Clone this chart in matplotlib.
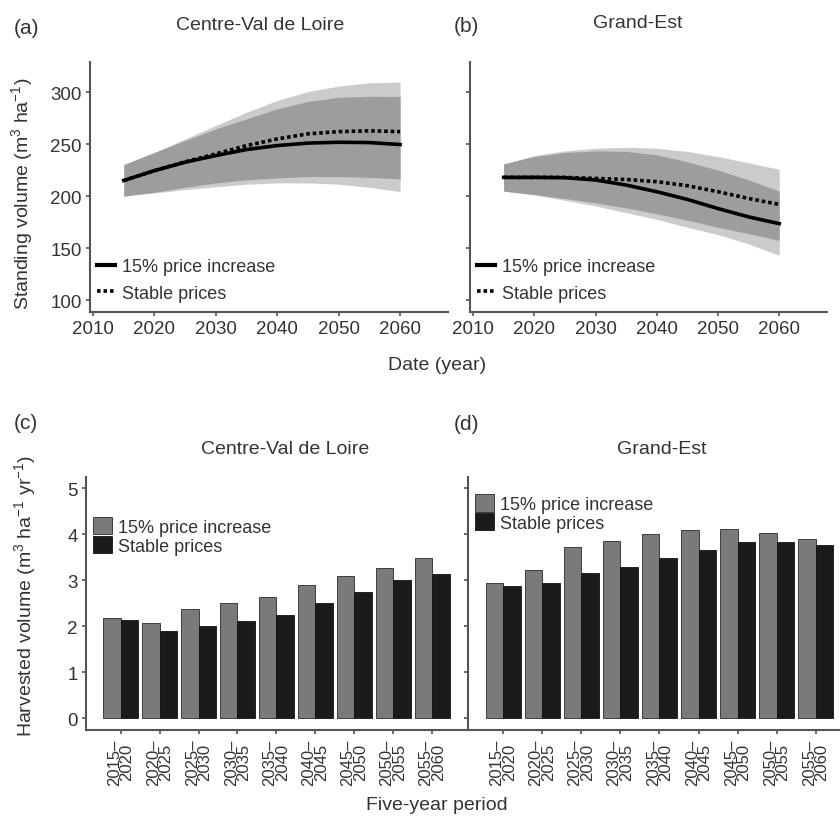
import numpy as np
import matplotlib
matplotlib.use("Agg")
import matplotlib.pyplot as plt
from matplotlib.patches import Patch
from matplotlib.lines import Line2D

plt.rcParams["font.family"] = ["Liberation Sans", "DejaVu Sans"]
plt.rcParams["mathtext.default"] = "regular"

TXT = "#333333"
AX = "#555555"
LIGHT = "#cbcbcb"
DARK = "#9d9d9d"
GREY_BAR = "#7a7a7a"
BLACK_BAR = "#1b1b1b"

# ─── standing volume (m3/ha), every 5 years ───
years = [2015, 2020, 2025, 2030, 2035, 2040, 2045, 2050, 2055, 2060]

cvl_increase = [215, 224.5, 232.6, 239, 244.8, 248.6, 251, 251.8, 251.5, 249.6]
cvl_stable = [215, 224.5, 233, 240.6, 248.6, 255, 259.9, 262, 262.8, 262]
cvl_light_hi = [230.3, 242, 255, 268, 280.7, 292, 300.6, 305.8, 309, 309.6]
cvl_light_lo = [200, 203, 206.3, 209, 211.4, 212.7, 212.7, 211.4, 208.5, 204.3]
cvl_dark_hi = [230.3, 242, 253.5, 264.7, 274.3, 284, 291, 295, 296, 295.8]
cvl_dark_lo = [200, 203.7, 208.5, 212.7, 215.6, 217.5, 218.8, 218.8, 218, 216.5]

ge_increase = [218, 218, 217.7, 215.5, 210.6, 204.2, 196.8, 188, 180, 173.5]
ge_stable = [218, 218, 218, 217, 216, 213.9, 210, 204.2, 197.7, 192]
ge_light_hi = [231, 239, 243.5, 246, 247, 246, 243, 238, 232, 225.8]
ge_light_lo = [204.8, 201, 196, 190.6, 184, 177.7, 170, 163, 154, 143]
ge_dark_hi = [231, 238, 242, 243.5, 243, 239.7, 233, 225, 215.5, 204.8]
ge_dark_lo = [204.8, 201.6, 197.7, 193.5, 188.7, 183, 176.8, 170, 163.9, 157.4]

# ─── harvested volume (m3/ha/yr) per five-year period ───
periods = ["2015–\n2020", "2020–\n2025", "2025–\n2030", "2030–\n2035", "2035–\n2040",
           "2040–\n2045", "2045–\n2050", "2050–\n2055", "2055–\n2060"]
cvl_harv_increase = [2.17, 2.07, 2.37, 2.50, 2.63, 2.90, 3.09, 3.27, 3.47]
cvl_harv_stable = [2.13, 1.89, 2.01, 2.10, 2.24, 2.51, 2.74, 3.00, 3.14]
ge_harv_increase = [2.94, 3.22, 3.72, 3.84, 4.00, 4.09, 4.11, 4.03, 3.90]
ge_harv_stable = [2.87, 2.93, 3.16, 3.29, 3.49, 3.66, 3.82, 3.82, 3.76]

W, H = 840, 829
fig = plt.figure(figsize=(W / 100, H / 100), dpi=100)
fig.patch.set_facecolor("white")


def px_axes(left, top, right, bottom):
    return fig.add_axes([left / W, 1 - bottom / H, (right - left) / W, (bottom - top) / H])


def style(ax, labels=True):
    for s in ("top", "right"):
        ax.spines[s].set_visible(False)
    for s in ("left", "bottom"):
        ax.spines[s].set_color(AX)
        ax.spines[s].set_linewidth(1.5)
    ax.tick_params(colors=AX, labelcolor=TXT, labelsize=13.5, length=3, width=1.2, pad=3)
    if not labels:
        ax.tick_params(axis="y", labelleft=False)


def line_panel(ax, lh, ll, dh, dl, inc, stab, ylab):
    ax.fill_between(years, ll, lh, color=LIGHT, lw=0)
    ax.fill_between(years, dl, dh, color=DARK, lw=0)
    ax.plot(years, stab, color="black", lw=2.6, ls=(0, (1, 0.8)))
    ax.plot(years, inc, color="black", lw=2.6)
    ax.set_xlim(2009.5, 2067.8)
    ax.set_ylim(88.5, 329)
    ax.set_xticks([2010, 2020, 2030, 2040, 2050, 2060])
    ax.set_yticks([100, 150, 200, 250, 300])
    style(ax, ylab)
    handles = [Line2D([], [], color="black", lw=3),
               Line2D([], [], color="black", lw=2.6, ls=(0, (1, 0.8)))]
    ax.legend(handles, ["15% price increase", "Stable prices"], loc="lower left",
              bbox_to_anchor=(0.0, 0.012), frameon=False, fontsize=13,
              handlelength=1.0, handletextpad=0.4, labelspacing=0.55,
              borderpad=0.2, borderaxespad=0.2, labelcolor=TXT)


def bar_panel(ax, inc, stab, ylab, leg_y):
    x = np.arange(len(periods))
    ax.bar(x - 0.225, inc, width=0.45, color=GREY_BAR, edgecolor="#2a2a2a", lw=0.6)
    ax.bar(x + 0.225, stab, width=0.45, color=BLACK_BAR, edgecolor="#111111", lw=0.6)
    ax.set_ylim(-0.26, 5.24)
    ax.set_yticks([0, 1, 2, 3, 4, 5])
    ax.set_xticks(x)
    ax.set_xticklabels(periods, rotation=90, linespacing=0.8, va="top")
    style(ax, ylab)
    ax.tick_params(axis="x", labelsize=12)
    handles = [Patch(facecolor=GREY_BAR, edgecolor="#2a2a2a", lw=0.6),
               Patch(facecolor=BLACK_BAR, edgecolor="#111111", lw=0.6)]
    ax.legend(handles, ["15% price increase", "Stable prices"], loc="upper left",
              bbox_to_anchor=(0.0, leg_y), frameon=False, fontsize=13,
              handlelength=1.05, handleheight=1.1, handletextpad=0.35,
              labelspacing=0.0, borderpad=0.2, borderaxespad=0.2, labelcolor=TXT)


ax_a = px_axes(90, 63, 448, 313)
ax_b = px_axes(470, 63, 827, 313)
ax_c = px_axes(86, 478, 466, 731)
ax_d = px_axes(468, 478, 840, 731)

line_panel(ax_a, cvl_light_hi, cvl_light_lo, cvl_dark_hi, cvl_dark_lo,
           cvl_increase, cvl_stable, True)
line_panel(ax_b, ge_light_hi, ge_light_lo, ge_dark_hi, ge_dark_lo,
           ge_increase, ge_stable, False)
ax_a.set_ylabel("Standing volume (m$^3$ ha$^{-1}$)", fontsize=14, color=TXT)
ax_a.yaxis.set_label_coords(-0.154, 0.476)

bar_panel(ax_c, cvl_harv_increase, cvl_harv_stable, True, 0.87)
bar_panel(ax_d, ge_harv_increase, ge_harv_stable, False, 0.96)
ax_c.set_xlim(-0.89, 8.87)
ax_d.set_xlim(-0.9, 8.62)
ax_c.set_ylabel("Harvested volume (m$^3$ ha$^{-1}$ yr$^{-1}$)", fontsize=14, color=TXT)
ax_c.yaxis.set_label_coords(-0.126, 0.534)

# titles and panel letters
fig.text(14 / W, 1 - 28 / H, "(a)", fontsize=15, color=TXT, va="center")
fig.text(454 / W, 1 - 27 / H, "(b)", fontsize=15, color=TXT, va="center")
fig.text(14 / W, 1 - 424 / H, "(c)", fontsize=15, color=TXT, va="center")
fig.text(454 / W, 1 - 425 / H, "(d)", fontsize=15, color=TXT, va="center")
fig.text(260 / W, 1 - 26 / H, "Centre-Val de Loire", fontsize=14, color=TXT,
         ha="center", va="center")
fig.text(638 / W, 1 - 24 / H, "Grand-Est", fontsize=14, color=TXT, ha="center", va="center")
fig.text(285 / W, 1 - 450 / H, "Centre-Val de Loire", fontsize=14, color=TXT,
         ha="center", va="center")
fig.text(662 / W, 1 - 450 / H, "Grand-Est", fontsize=14, color=TXT, ha="center", va="center")
fig.text(437 / W, 1 - 366 / H, "Date (year)", fontsize=14, color=TXT, ha="center", va="center")
fig.text(437 / W, 1 - 806 / H, "Five-year period", fontsize=14, color=TXT,
         ha="center", va="center")

fig.savefig("out.png", dpi=100, facecolor="white")
